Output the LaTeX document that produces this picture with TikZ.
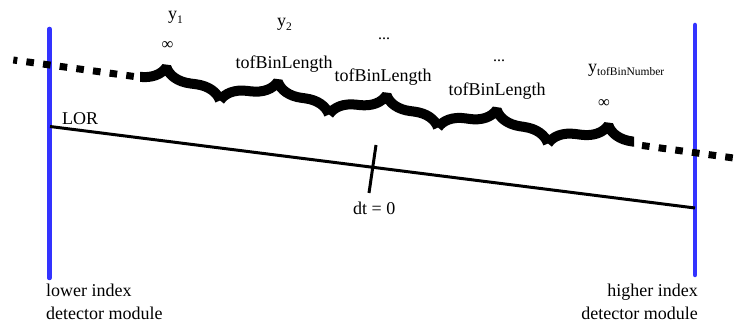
\documentclass[tikz,border=0pt]{standalone}
\usepackage{fontspec}
\setmainfont{Liberation Serif}
\usetikzlibrary{decorations.pathreplacing}
\definecolor{modblue}{RGB}{51,51,255}
\newcommand\lblfont{\fontsize{18}{23.5}\selectfont}
\newcommand\sublbl[1]{\raisebox{-3.5pt}{\fontsize{11.5}{12}\selectfont #1}}
\begin{document}
\begin{tikzpicture}[x=1pt,y=-1pt,
  txt/.style={font=\lblfont, inner sep=0pt, anchor=base},
  smalltxt/.style={font=\fontsize{16}{18}\selectfont, inner sep=0pt, anchor=base},
  inftxt/.style={font=\fontsize{16.5}{18}\selectfont, inner sep=0pt, anchor=center},
  module/.style={draw=modblue, line width=4.5pt, line cap=round},
  lor/.style={draw=black, line width=3pt},
  dotline/.style={draw=black, line width=7pt, dash pattern=on 7.6pt off 9.2pt},
  bracestyle/.style={draw=black, line width=10pt, line join=bevel, decorate, decoration={brace, amplitude=26pt}},
]
\useasboundingbox (0,0) rectangle (740,323);

% detector modules
\coordinate (LT) at (49.5,29);  \coordinate (LB) at (49.5,278);
\coordinate (RT) at (695,25);   \coordinate (RB) at (695,275);
\draw[module] (LT) -- (LB);
\draw[module] (RT) -- (RB);

% LOR
\coordinate (L1) at (50,126.5); \coordinate (L2) at (695,208);
\draw[lor] (L1) -- (L2);
\coordinate (T1) at (376,145);  \coordinate (T2) at (369,193);
\draw[lor] (T1) -- (T2);

% dotted extensions
\coordinate (D1) at (13.3,60);  \coordinate (D2) at (135,76.6);
\coordinate (D3) at (642,145.5); \coordinate (D4) at (733.5,158);
\draw[dotline, dash phase=3.6pt] (D1) -- (D2);
\draw[dotline] (D3) -- (D4);

% braces
\coordinate (J0) at (106,85.5);
\coordinate (J1) at (220,100.5);
\coordinate (J2) at (329,114.5);
\coordinate (J3) at (438,127.5);
\coordinate (J4) at (548,143.5);
\coordinate (J5) at (662,158.5);
\begin{scope}
  \clip (140,0) rectangle (634,323);
  \draw[bracestyle] (J0) -- (J1);
  \draw[bracestyle] (J1) -- (J2);
  \draw[bracestyle] (J2) -- (J3);
  \draw[bracestyle] (J3) -- (J4);
  \draw[bracestyle] (J4) -- (J5);
\end{scope}

% labels
\node[txt, anchor=base west] (y1) at (168,20) {y\sublbl{1}};
\node[txt, anchor=base west] (y2) at (277,27) {y\sublbl{2}};
\node[inftxt] (inf1) at (167.5,46) {∞};
\node[txt] (len1) at (284,69) {tofBinLength};
\node[smalltxt] (dots1) at (384,40) {...};
\node[txt] (len2) at (383,82) {tofBinLength};
\node[smalltxt] (dots2) at (499,62) {...};
\node[txt] (len3) at (497,95.5) {tofBinLength};
\node[txt, anchor=base west] (yN) at (588,72.5) {y\sublbl{tofBinNumber}};
\node[inftxt] (inf2) at (604,104) {∞};
\node[txt, anchor=base west] (lor) at (62,125) {LOR};
\node[txt, anchor=base west] (dt) at (353,215) {dt = 0};
\node[txt, anchor=base west, align=left] (lower) at (46,320) {lower index\\detector module};
\node[txt, anchor=base east, align=right] (higher) at (698,320) {higher index\\detector module};
\end{tikzpicture}
\end{document}
